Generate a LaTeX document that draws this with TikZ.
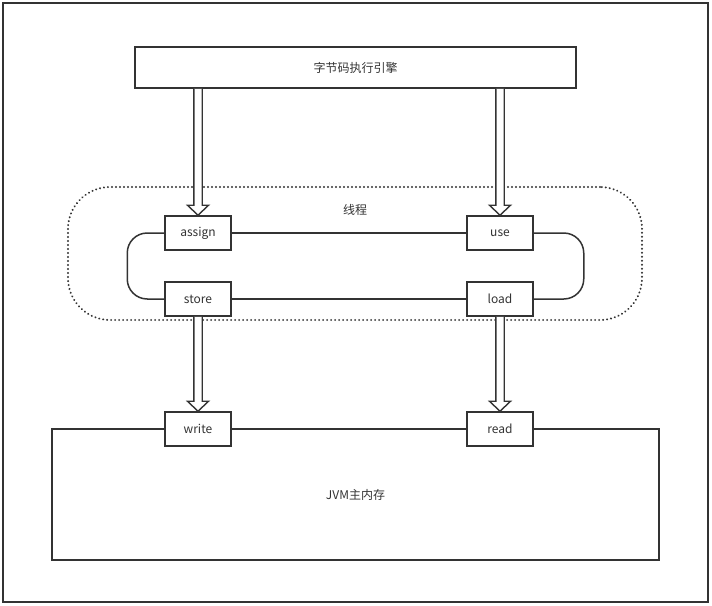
\documentclass[tikz,border=0pt]{standalone}
\usepackage{fontspec}
\setmainfont{Noto Sans CJK SC}
\usetikzlibrary{calc}
\definecolor{ink}{HTML}{333333}
\newcommand\hollowarrow[2]{%
  \draw[ink,line width=1.4pt,fill=white,line join=miter] let \p1=(#1), \p2=(#2) in
    (\x2-4.2pt,\y1) -- (\x2-4.2pt,\y2+10pt) -- (\x2-10.5pt,\y2+10pt) -- (\x2,\y2)
    -- (\x2+10.5pt,\y2+10pt) -- (\x2+4.2pt,\y2+10pt) -- (\x2+4.2pt,\y1);}
\begin{document}
\begin{tikzpicture}[x=1pt,y=-1pt,
  every node/.style={font=\fontsize{12}{14}\selectfont, text=ink},
  opbox/.style={draw=ink, line width=1.5pt, fill=white, minimum width=66pt, minimum height=34pt, inner sep=0pt},
  link/.style={draw=ink, line width=1.5pt}]
\useasboundingbox (0,0) rectangle (712,605);
\draw[ink, line width=2pt] (3,3) rectangle (708,602);
% top engine box
\node[draw=ink, line width=1.5pt, minimum width=441pt, minimum height=41pt, inner sep=0pt] (engine) at (355.5,67.5) {字节码执行引擎};
% thread dotted region
\node[draw=ink, line width=2.1pt, line cap=round, dash pattern=on 0.1pt off 3.9pt, rounded corners=42pt, minimum width=574pt, minimum height=133pt, inner sep=0pt] (thread) at (355,253.5) {};
\node (threadlbl) at (355,210) {线程};
% main memory
\node[draw=ink, line width=1.5pt, minimum width=607pt, minimum height=131pt, inner sep=0pt] (mem) at (355.5,494.5) {JVM主内存};
% op boxes
\node[opbox] (assign) at (198,233) {assign};
\node[opbox] (use) at (500,233) {use};
\node[opbox] (store) at (198,299) {store};
\node[opbox] (load) at (500,299) {load};
\node[opbox] (write) at (198,429) {write};
\node[opbox] (read) at (500,429) {read};
% connectors
\draw[link] (assign) -- (use);
\draw[link] (store) -- (load);
\draw[link, rounded corners=20pt] (assign.west) -- ++(-37,0) |- (store.west);
\draw[link, rounded corners=20pt] (use.east) -- ++(50,0) |- (load.east);
% hollow arrows
\hollowarrow{engine.south}{assign.north}
\hollowarrow{engine.south}{use.north}
\hollowarrow{store.south}{write.north}
\hollowarrow{load.south}{read.north}
\end{tikzpicture}
\end{document}
